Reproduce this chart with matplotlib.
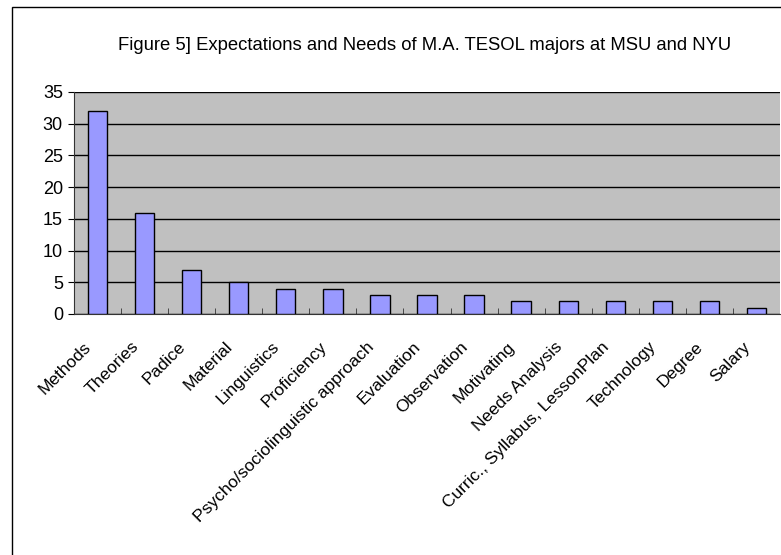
import matplotlib.pyplot as plt
from matplotlib.patches import Rectangle
from matplotlib.transforms import ScaledTranslation

# Responses per topic
topics = ["Methods", "Theories", "Padice", "Material", "Linguistics", "Proficiency",
          "Psycho/sociolinguistic approach", "Evaluation", "Observation", "Motivating",
          "Needs Analysis", "Curric., Syllabus, LessonPlan", "Technology", "Degree", "Salary"]
counts = [32, 16, 7, 5, 4, 4, 3, 3, 3, 2, 2, 2, 2, 2, 1]
y_ticks = [0, 5, 10, 15, 20, 25, 30, 35]

plt.rcParams["font.family"] = ["Liberation Sans", "DejaVu Sans"]

fig = plt.figure(figsize=(7.81, 5.55), dpi=100)
W, H = 781, 555

# chart frame
fig.patches.append(Rectangle((12 / W, -0.1), 1.2, (H - 7) / H + 0.1, transform=fig.transFigure,
                             fill=False, edgecolor="black", linewidth=1.0))

ax = fig.add_axes([74 / W, 1 - 314 / H, (780 - 74) / W, (314 - 92) / H])
ax.set_facecolor("#C0C0C0")

x = list(range(len(topics)))
ax.bar(x, counts, width=0.41, color="#9999FF", edgecolor="black", linewidth=1.0, zorder=3)

ax.set_xlim(-0.5, len(topics) - 0.5)
ax.set_ylim(0, 35)
ax.set_yticks(y_ticks)
ax.set_yticklabels([str(v) for v in y_ticks], fontsize=13)
ax.yaxis.grid(True, color="black", linewidth=1.0, zorder=1)

# category labels, slanted, set a little left of and below each bar
ax.set_xticks(x)
ax.set_xticklabels([])
ax.tick_params(axis="x", length=0)
shift = ScaledTranslation(-0.14, -0.25, fig.dpi_scale_trans)
for i, name in zip(x, topics):
    ax.text(i, 0, name, transform=ax.get_xaxis_transform() + shift,
            rotation=45, rotation_mode="anchor", ha="right", va="top", fontsize=12.5)

ax.set_xticks([i + 0.5 for i in x[:-1]], minor=True)
ax.tick_params(axis="x", which="minor", direction="in", length=4, color="#333333")
ax.tick_params(axis="y", direction="out", length=4, pad=4)

for side in ["top", "right"]:
    ax.spines[side].set_visible(False)
ax.spines["bottom"].set_color("#333333")
ax.spines["left"].set_color("#333333")

fig.text(425 / W, 1 - 46 / H, "Figure 5] Expectations and Needs of M.A. TESOL majors at MSU and NYU",
         ha="center", va="center", fontsize=13.3)

fig.savefig("out.png", dpi=100)
